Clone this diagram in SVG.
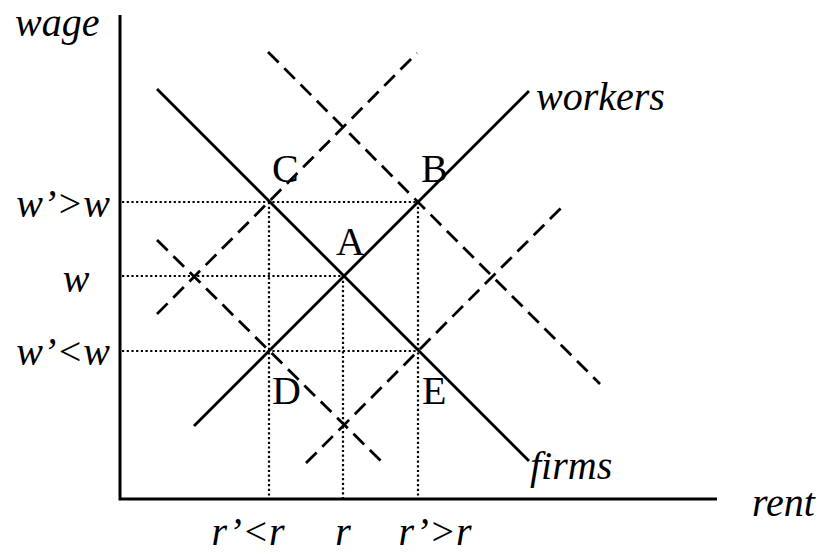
<svg xmlns="http://www.w3.org/2000/svg" width="827" height="557" viewBox="0 0 827 557">
<style>
.axis{stroke:#000;stroke-width:3;fill:none}
.solid{stroke:#000;stroke-width:2.8;fill:none}
.dash{stroke:#000;stroke-width:2.8;fill:none;stroke-dasharray:15 8}
.dot{stroke:#000;stroke-width:2.2;fill:none;stroke-dasharray:2.2 2.5}
.it{font-family:"Liberation Serif","Times New Roman",serif;font-style:italic;font-size:40px;fill:#000}
.up{font-family:"Liberation Serif","Times New Roman",serif;font-size:40px;fill:#000}
</style>
<rect width="827" height="557" fill="#fff"/>
<g id="axes">
<polyline class="axis" points="120,15 120,499 717,499"/>
<text class="it" x="15" y="36">wage</text>
<text class="it" x="752" y="516">rent</text>
</g>
<g id="connectors">
<line class="dot" x1="122" y1="202" x2="418" y2="202"/>
<line class="dot" x1="122" y1="276" x2="343" y2="276"/>
<line class="dot" x1="122" y1="351" x2="418" y2="351"/>
<line class="dot" x1="269" y1="202" x2="269" y2="498"/>
<line class="dot" x1="343" y1="276" x2="343" y2="498"/>
<line class="dot" x1="418" y1="202" x2="418" y2="498"/>
<line class="dash" x1="157" y1="314" x2="417" y2="53"/>
<line class="dash" x1="268" y1="52" x2="600" y2="384"/>
<line class="dash" x1="306" y1="463" x2="566" y2="203"/>
<line class="dash" x1="157" y1="240" x2="382" y2="462"/>
</g>
<g id="firms">
<line class="solid" x1="157" y1="89" x2="529" y2="461"/>
<text class="it" x="530" y="479">firms</text>
</g>
<g id="workers">
<line class="solid" x1="194" y1="426" x2="529" y2="91"/>
<text class="it" x="536" y="110">workers</text>
</g>
<g id="ylabels">
<text class="it" x="110" y="217" text-anchor="end">w’&gt;w</text>
<text class="it" x="76" y="292" text-anchor="middle">w</text>
<text class="it" x="110" y="365" text-anchor="end">w’&lt;w</text>
</g>
<g id="xlabels">
<text class="it" x="248" y="545" text-anchor="middle">r’&lt;r</text>
<text class="it" x="343" y="545" text-anchor="middle">r</text>
<text class="it" x="435" y="545" text-anchor="middle">r’&gt;r</text>
</g>
<g id="A"><text class="up" x="336" y="255">A</text></g>
<g id="B"><text class="up" x="421" y="182">B</text></g>
<g id="C"><text class="up" x="272" y="182">C</text></g>
<g id="D"><text class="up" x="272" y="404">D</text></g>
<g id="E"><text class="up" x="422" y="404">E</text></g>
</svg>
